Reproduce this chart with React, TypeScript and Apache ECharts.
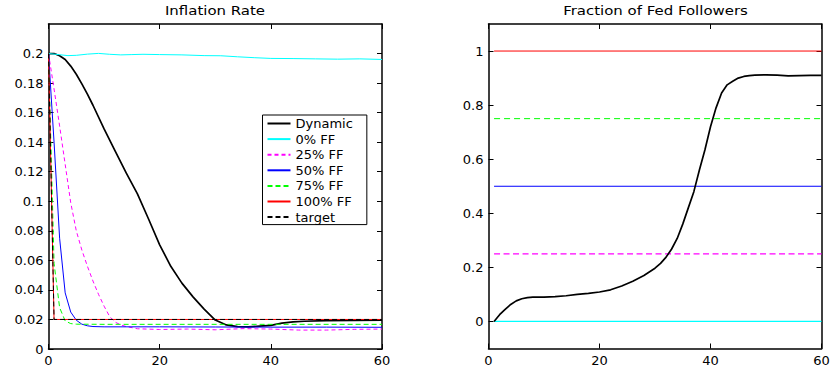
import React, { useEffect, useRef } from 'react';
import * as echarts from 'echarts';

// ---------- data ----------
const timeTicks = [0, 20, 40, 60];
const inflationTicks = [0, 0.02, 0.04, 0.06, 0.08, 0.1, 0.12, 0.14, 0.16, 0.18, 0.2];
const fractionTicks = [0, 0.2, 0.4, 0.6, 0.8, 1];

const legendNames = ['Dynamic', '0% FF', '25% FF', '50% FF', '75% FF', '100% FF', 'target'];

const inflationDynamic = [
  [0, 0.2], [1, 0.2], [2, 0.1985], [3, 0.196], [4, 0.1915], [5, 0.186], [6, 0.1795], [7, 0.1725],
  [8, 0.165], [10, 0.149], [12, 0.134], [14, 0.119], [16, 0.105], [18, 0.088], [20, 0.0705],
  [22, 0.056], [24, 0.0446], [26, 0.0353], [28, 0.027], [30, 0.0196], [32, 0.0163], [34, 0.0152],
  [36, 0.015], [38, 0.0155], [40, 0.016], [42, 0.0175], [44, 0.0183], [46, 0.0188], [50, 0.0192],
  [55, 0.0194], [60, 0.0195],
];
const inflationFF0 = [
  [0, 0.2], [2, 0.1992], [3.5, 0.1986], [5, 0.1988], [7, 0.1996], [9, 0.2001], [11, 0.1995],
  [13, 0.1991], [15, 0.1993], [17, 0.1995], [20, 0.1993], [24, 0.1991], [28, 0.1986], [31, 0.1985],
  [34, 0.1978], [37, 0.1972], [40, 0.1967], [44, 0.1966], [48, 0.1964], [52, 0.1962], [56, 0.1964],
  [60, 0.196],
];
const inflationFF25 = [
  [0, 0.2], [1, 0.176], [2, 0.151], [3, 0.125], [4, 0.099], [5, 0.08], [6, 0.067], [7, 0.056],
  [8, 0.046], [9, 0.037], [10, 0.029], [11, 0.022], [12, 0.0182], [13, 0.0163], [14, 0.0152],
  [16, 0.0137], [20, 0.0132], [25, 0.0135], [30, 0.013], [35, 0.0138], [40, 0.0135], [45, 0.0128],
  [50, 0.0128], [55, 0.0133], [60, 0.0135],
];
const inflationFF50 = [
  [0, 0.2], [1, 0.14], [2, 0.075], [3, 0.038], [4, 0.025], [5, 0.0195], [6, 0.0168], [7, 0.0157],
  [8, 0.0152], [10, 0.015], [20, 0.015], [30, 0.0149], [40, 0.0148], [50, 0.0148], [60, 0.0147],
];
const inflationFF75 = [
  [0, 0.2], [1, 0.058], [2, 0.028], [3, 0.019], [4, 0.0172], [5, 0.0168], [10, 0.0167], [60, 0.0167],
];
const inflationFF100 = [[0, 0.2], [1, 0.02], [60, 0.02]];
const inflationTarget = [[0, 0.2], [1, 0.02], [60, 0.02]];

const fedFollowerShares = [0, 0.25, 0.5, 0.75, 1];
const fractionStart = 1;
const fractionEnd = 60;
const fractionDynamic = [
  [1, 0], [2, 0.025], [3, 0.045], [4, 0.063], [5, 0.076], [6, 0.084], [7, 0.088], [8, 0.09],
  [10, 0.09], [12, 0.092], [14, 0.095], [16, 0.1], [18, 0.104], [20, 0.109], [22, 0.117],
  [24, 0.131], [26, 0.149], [28, 0.17], [30, 0.197], [31, 0.215], [32, 0.238], [33, 0.268],
  [34, 0.307], [35, 0.36], [36, 0.42], [37, 0.48], [38, 0.56], [39, 0.635], [40, 0.72],
  [41, 0.79], [42, 0.845], [43, 0.875], [44, 0.888], [45, 0.9], [46, 0.906], [47, 0.909],
  [48, 0.911], [50, 0.912], [52, 0.911], [54, 0.908], [56, 0.909], [58, 0.91], [60, 0.91],
];

// ---------- styles ----------
const FONT = 'DejaVu Sans';
const lineStyles = [
  { color: '#000000', width: 1.7, type: 'solid' },
  { color: '#00ffff', width: 1, type: 'solid' },
  { color: '#ff00ff', width: 1, type: [4, 3] },
  { color: '#0000ff', width: 1, type: 'solid' },
  { color: '#00ff00', width: 1, type: [5, 3] },
  { color: '#ff0000', width: 1, type: 'solid' },
  { color: '#000000', width: 1, type: [5, 3] },
];
const shareStyles = [
  { color: '#00ffff', width: 1.2, type: 'solid' },
  { color: '#ff00ff', width: 1.2, type: [6, 3.5] },
  { color: '#0000ff', width: 1, type: 'solid' },
  { color: '#00ff00', width: 1, type: [6, 4] },
  { color: '#ff0000', width: 1, type: 'solid' },
];

const fmt = (v: number) => String(Number(Number(v).toFixed(4)));
const LABEL_SIZE = 13;

function axis(extra: any, showLabel: boolean) {
  return {
    type: 'value',
    axisLine: { show: true, onZero: false, lineStyle: { color: '#000', width: 1.5 } },
    axisTick: { show: true, inside: true, length: 5, lineStyle: { color: '#000', width: 1 } },
    splitLine: { show: false },
    axisLabel: {
      show: showLabel,
      color: '#000',
      fontFamily: FONT,
      fontSize: LABEL_SIZE,
      margin: 5,
      formatter: fmt,
    },
    ...extra,
  };
}

function yTicks(values: number[], showLabel: boolean) {
  return {
    axisLabel: {
      show: showLabel, color: '#000', fontFamily: FONT, fontSize: LABEL_SIZE, margin: 5,
      formatter: fmt, customValues: values,
    },
    axisTick: {
      show: true, inside: true, length: 5, lineStyle: { color: '#000', width: 1 }, customValues: values,
    },
  };
}

export default function App() {
  const ref = useRef<HTMLDivElement>(null);

  useEffect(() => {
    document.body.style.margin = '0';
    if (!ref.current) return;
    const chart = echarts.init(ref.current, undefined, { renderer: 'svg' });

    const xBase = { min: timeTicks[0], max: timeTicks[timeTicks.length - 1], interval: 20 };
    const yInfl = { min: 0, max: 0.22 };
    const yFrac = { min: -0.1, max: 1.1 };

    const inflationSets = [
      inflationDynamic, inflationFF0, inflationFF25, inflationFF50, inflationFF75, inflationFF100, inflationTarget,
    ];

    const leftSeries = inflationSets.map((d, i) => ({
      type: 'line',
      name: legendNames[i],
      xAxisIndex: 0,
      yAxisIndex: 0,
      data: d,
      showSymbol: false,
      symbol: 'none',
      lineStyle: lineStyles[i],
      itemStyle: { color: lineStyles[i].color },
      z: 2 + i,
    }));

    const shareSeries = fedFollowerShares.map((f, i) => ({
      type: 'line',
      name: 'share ' + f,
      xAxisIndex: 2,
      yAxisIndex: 2,
      data: [[fractionStart, f], [fractionEnd, f]],
      showSymbol: false,
      symbol: 'none',
      lineStyle: shareStyles[i],
      itemStyle: { color: shareStyles[i].color },
      z: 3,
    }));

    const option: any = {
      animation: false,
      backgroundColor: '#ffffff',
      grid: [
        { left: 48.5, top: 24, width: 333.5, height: 325 },
        { left: 488.5, top: 24, width: 333, height: 324.5 },
      ],
      xAxis: [
        axis({ gridIndex: 0, position: 'bottom', ...xBase }, true),
        axis({ gridIndex: 0, position: 'top', ...xBase }, false),
        axis({ gridIndex: 1, position: 'bottom', ...xBase }, true),
        axis({ gridIndex: 1, position: 'top', ...xBase }, false),
      ],
      yAxis: [
        axis({ gridIndex: 0, position: 'left', ...yInfl, ...yTicks(inflationTicks, true) }, true),
        axis({ gridIndex: 0, position: 'right', ...yInfl, ...yTicks(inflationTicks, false) }, false),
        axis({ gridIndex: 1, position: 'left', ...yFrac, ...yTicks(fractionTicks, true) }, true),
        axis({ gridIndex: 1, position: 'right', ...yFrac, ...yTicks(fractionTicks, false) }, false),
      ],
      legend: {
        data: legendNames,
        orient: 'vertical',
        left: 262.5,
        top: 115,
        backgroundColor: '#ffffff',
        borderColor: '#000000',
        borderWidth: 1,
        borderRadius: 0,
        padding: [2, 14, 1, 4],
        itemWidth: 23,
        itemHeight: 12,
        itemGap: 2.6,
        selectedMode: false,
        itemStyle: { color: 'rgba(0,0,0,0)', borderColor: 'rgba(0,0,0,0)', borderWidth: 0 },
        textStyle: { color: '#000', fontFamily: FONT, fontSize: 13 },
      },
      graphic: [
        {
          type: 'text', x: 215, y: 10, scaleX: 1.15,
          style: { text: 'Inflation Rate', font: `13px "${FONT}"`, fill: '#000', textAlign: 'center', textVerticalAlign: 'middle' },
        },
        {
          type: 'text', x: 655.5, y: 10, scaleX: 1.15,
          style: { text: 'Fraction of Fed Followers', font: `13px "${FONT}"`, fill: '#000', textAlign: 'center', textVerticalAlign: 'middle' },
        },
      ],
      series: [
        ...leftSeries,
        ...shareSeries,
        {
          type: 'line',
          name: 'fraction dynamic',
          xAxisIndex: 2,
          yAxisIndex: 2,
          data: fractionDynamic,
          showSymbol: false,
          symbol: 'none',
          lineStyle: { color: '#000', width: 1.7 },
          itemStyle: { color: '#000' },
          z: 5,
        },
      ],
    };

    chart.setOption(option);
    return () => chart.dispose();
  }, []);

  return (
    <div
      ref={ref}
      style={{ position: 'fixed', left: 0, top: 0, width: 834, height: 370, background: '#fff' }}
    />
  );
}
